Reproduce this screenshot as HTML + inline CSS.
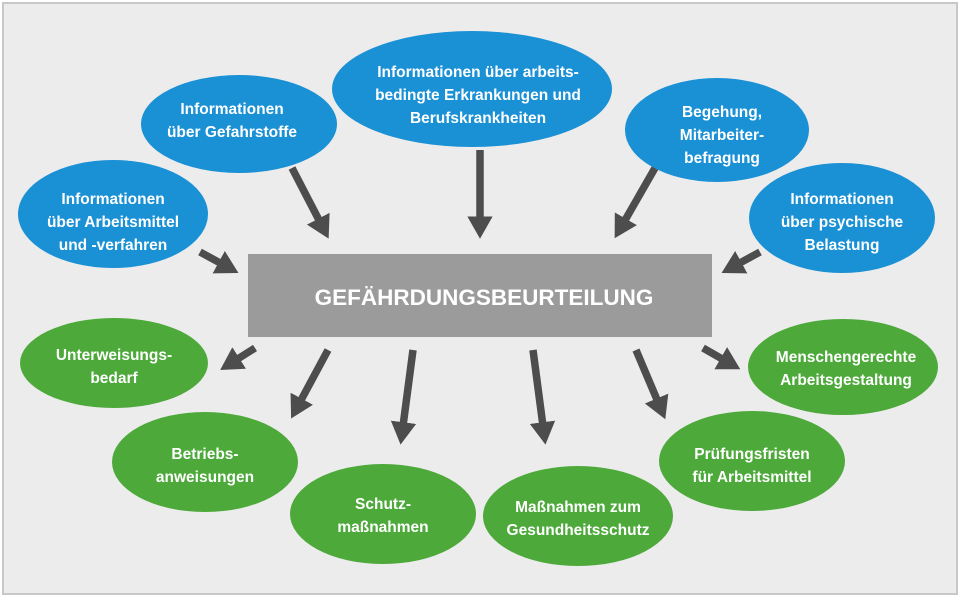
<!DOCTYPE html>
<html><head><meta charset="utf-8"><style>
html,body{margin:0;padding:0;background:#fff}
svg text{font-family:"Liberation Sans Narrow","Liberation Sans",sans-serif;font-weight:bold;fill:#fff;text-anchor:middle}
</style></head><body>
<svg width="960" height="597" viewBox="0 0 960 597" xmlns="http://www.w3.org/2000/svg">
<defs><marker id="a" markerWidth="3.2" markerHeight="3.4" refX="0.5" refY="1.7" orient="auto" markerUnits="strokeWidth"><path d="M0,0 L3,1.7 L0,3.4 z" fill="#4d4d4d"/></marker></defs>
<rect x="3" y="3" width="954" height="591" fill="#ececec" stroke="#c8c8c8" stroke-width="2"/>
<rect x="248" y="254" width="464" height="83" fill="#9b9b9b"/>
<text x="484" y="305" font-size="22.5">GEFÄHRDUNGSBEURTEILUNG</text>
<g stroke="#4d4d4d" stroke-width="7.5" marker-end="url(#a)" fill="none">
<line x1="200" y1="252" x2="222" y2="264"/>
<line x1="292" y1="168" x2="320" y2="222"/>
<line x1="480" y1="150" x2="480" y2="220"/>
<line x1="655" y1="168" x2="624" y2="222"/>
<line x1="760" y1="252" x2="738" y2="264"/>
<line x1="255" y1="348" x2="236" y2="360"/>
<line x1="328" y1="350" x2="300" y2="402"/>
<line x1="413" y1="350" x2="403" y2="426"/>
<line x1="533" y1="350" x2="543" y2="426"/>
<line x1="636" y1="350" x2="658" y2="402"/>
<line x1="703" y1="348" x2="724" y2="360"/>
</g>
<g fill="#1a90d5">
<ellipse cx="113" cy="214" rx="95" ry="54"/>
<ellipse cx="239" cy="124" rx="98" ry="49"/>
<ellipse cx="472" cy="89" rx="140" ry="58"/>
<ellipse cx="717" cy="130" rx="92" ry="52"/>
<ellipse cx="842" cy="218" rx="93" ry="55"/>
</g>
<g fill="#4ca93a">
<ellipse cx="114" cy="363" rx="94" ry="45"/>
<ellipse cx="205" cy="462" rx="93" ry="50"/>
<ellipse cx="383" cy="514" rx="93" ry="50"/>
<ellipse cx="578" cy="516" rx="95" ry="50"/>
<ellipse cx="752" cy="461" rx="93" ry="50"/>
<ellipse cx="843" cy="367" rx="95" ry="48"/>
</g>
<g font-size="15.5">
<text x="113" y="204">Informationen</text><text x="113" y="227">über Arbeitsmittel</text><text x="113" y="250">und -verfahren</text>
<text x="232" y="114">Informationen</text><text x="232" y="137">über Gefahrstoffe</text>
<text x="478" y="77">Informationen über arbeits-</text><text x="478" y="100">bedingte Erkrankungen und</text><text x="478" y="123">Berufskrankheiten</text>
<text x="722" y="117">Begehung,</text><text x="722" y="140">Mitarbeiter-</text><text x="722" y="163">befragung</text>
<text x="842" y="204">Informationen</text><text x="842" y="227">über psychische</text><text x="842" y="250">Belastung</text>
<text x="114" y="360">Unterweisungs-</text><text x="114" y="383">bedarf</text>
<text x="205" y="459">Betriebs-</text><text x="205" y="482">anweisungen</text>
<text x="383" y="509">Schutz-</text><text x="383" y="532">maßnahmen</text>
<text x="578" y="512">Maßnahmen zum</text><text x="578" y="535">Gesundheitsschutz</text>
<text x="752" y="459">Prüfungsfristen</text><text x="752" y="482">für Arbeitsmittel</text>
<text x="846" y="362">Menschengerechte</text><text x="846" y="385">Arbeitsgestaltung</text>
</g>
</svg>
</body></html>
